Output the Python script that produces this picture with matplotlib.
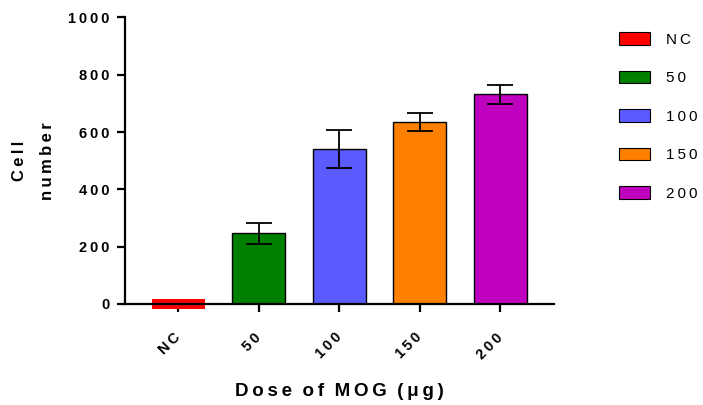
import matplotlib
matplotlib.use("Agg")
import matplotlib.pyplot as plt
from matplotlib.patches import Patch

# data
groups = ["NC", "50", "100", "150", "200"]
means = [0, 247, 540, 635, 732]
errors = [0, 36, 66, 30, 33]
colors = ["#ff0000", "#007f00", "#5a5aff", "#ff8000", "#bf00bf"]
y_ticks = [0, 200, 400, 600, 800, 1000]

THIN = "\u2009"


def spaced(text):
    """Imitate the wide letter spacing of the original"""
    return THIN.join(text).replace(THIN + " " + THIN, "  ")


plt.rcParams["font.family"] = ["Liberation Sans", "DejaVu Sans"]

fig = plt.figure(figsize=(7.03, 4.05), dpi=100)
ax = fig.add_axes([0.178, 0.2494, 0.61, 0.7076])

x = list(range(len(groups)))
width = 0.66

for i, (m, e, c) in enumerate(zip(means, errors, colors)):
    if m == 0:
        # empty group is drawn as a thick stroke on the baseline
        ax.hlines(m, i - width / 2, i + width / 2, colors=c, linewidth=7.2,
                  clip_on=False, zorder=2)
        continue
    ax.bar(i, m, width=width, color=c, edgecolor="black", linewidth=1.0,
           zorder=2)
    ax.errorbar(i, m, yerr=e, color="black", linewidth=1.3, capsize=9.5,
                capthick=1.3, zorder=3)

ax.set_xlim(-0.658, 4.665)
ax.set_ylim(0, 1000)
ax.set_yticks(y_ticks)
ax.set_yticklabels([spaced(str(t)) for t in y_ticks], fontsize=10.5,
                   fontweight="bold")
ax.set_xticks(x)
ax.set_xticklabels([spaced(g) for g in groups], fontsize=10.5,
                   fontweight="bold", rotation=45, ha="right",
                   va="center", rotation_mode="anchor")

for side in ["top", "right"]:
    ax.spines[side].set_visible(False)
for side in ["left", "bottom"]:
    ax.spines[side].set_linewidth(1.6)
ax.tick_params(axis="both", width=1.6, length=5.5, direction="out")
ax.tick_params(axis="x", pad=17)
ax.tick_params(axis="y", pad=6)

ax.set_ylabel(spaced("Cell") + "\n" + spaced("number"), fontsize=12,
              fontweight="bold", labelpad=9.5, linespacing=2.05)
ax.set_xlabel(spaced("Dose of MOG (μg)"), fontsize=13.5,
              fontweight="bold", labelpad=15)

handles = [Patch(facecolor=c, edgecolor="black", linewidth=0.8)
           for c in colors]
fig.legend(handles, [spaced(g) for g in groups], loc="upper left",
           bbox_to_anchor=(619 / 703, 1 - 32 / 405), frameon=False,
           fontsize=11, handlelength=2.0, handleheight=0.92,
           handletextpad=1.1, labelspacing=1.56, borderpad=0,
           borderaxespad=0)

fig.savefig("out.png", dpi=100)
